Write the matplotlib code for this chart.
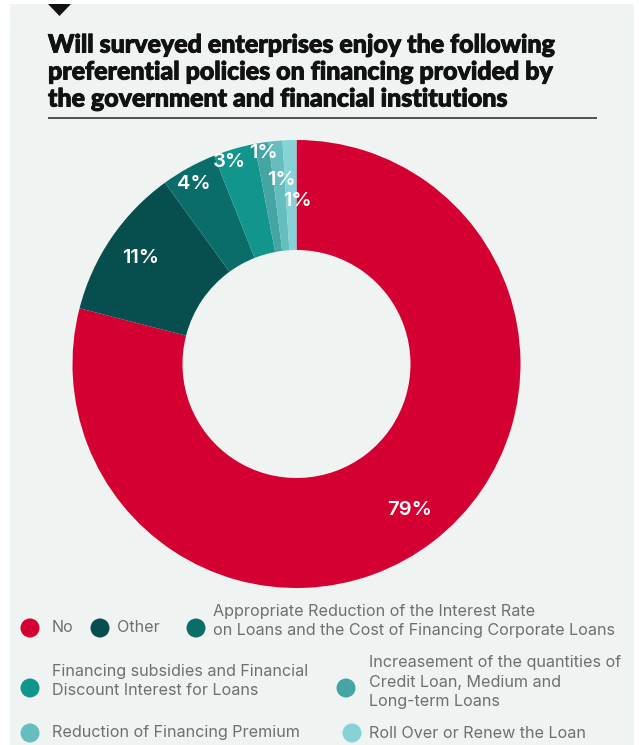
import matplotlib
matplotlib.use("Agg")
import matplotlib.pyplot as plt
from matplotlib.patches import Circle, Polygon, Rectangle
import matplotlib.patheffects as pe
import numpy as np

categories = [
    "No",
    "Other",
    "Appropriate Reduction of the Interest Rate\non Loans and the Cost of Financing Corporate Loans",
    "Financing subsidies and Financial\nDiscount Interest for Loans",
    "Increasement of the quantities of\nCredit Loan, Medium and\nLong-term Loans",
    "Reduction of Financing Premium",
    "Roll Over or Renew the Loan",
]
shares = [79, 11, 4, 3, 1, 1, 1]
value_labels = ["79%", "11%", "4%", "3%", "1%", "1%", "1%"]
colors = ["#d40032", "#064f4e", "#0b6d6a", "#12958c", "#45a5a5", "#66bdbd", "#87d2d7"]

title_lines = [
    "Will surveyed enterprises enjoy the following",
    "preferential policies on financing provided by",
    "the government and financial institutions",
]

W, H = 639, 745
DPI = 100
fig = plt.figure(figsize=(W / DPI, H / DPI), dpi=DPI)
fig.patch.set_facecolor("white")

# full-figure canvas in pixel units (y grows downward)
canvas = fig.add_axes([0, 0, 1, 1])
canvas.set_xlim(0, W)
canvas.set_ylim(H, 0)
canvas.axis("off")

BG = "#eff3f2"
canvas.add_patch(Rectangle((10, 4), 624, H, facecolor=BG, edgecolor="none", zorder=0))
canvas.add_patch(Polygon([(48, 4), (71, 4), (59.5, 16)], closed=True,
                         facecolor="#111111", edgecolor="none", zorder=2))

title_font = ["Lato", "DejaVu Sans"]
for k, line in enumerate(title_lines):
    canvas.text(48, 52.5 + 27 * k, line, ha="left", va="baseline", fontsize=18.0,
                fontweight="black", family=title_font, color="#111111", zorder=3,
                path_effects=[pe.withStroke(linewidth=0.7, foreground="#111111")])
canvas.plot([48, 597], [118, 118], color="#333333", lw=1.2, solid_capstyle="butt", zorder=3)

# donut
cx, cy, R, r_in = 296.5, 364, 224, 114
pie_ax = fig.add_axes([(cx - R) / W, (H - cy - R) / H, 2 * R / W, 2 * R / H])
pie_ax.pie(shares, colors=colors, startangle=90, counterclock=False, radius=1,
           wedgeprops=dict(width=1 - r_in / R, edgecolor="none", linewidth=0))
pie_ax.set_xlim(-1, 1)
pie_ax.set_ylim(-1, 1)
pie_ax.set_aspect("equal")
pie_ax.axis("off")

# value labels at wedge mid-angles
label_radius = [0.826, 0.84, 0.924, 0.95, 0.955, 0.826, 0.728]
label_shift = [0, 0, 0.8, 2.3, 0, -0.6, -2.0]
cum = np.cumsum([0] + shares[:-1])
total = sum(shares)
for i, s in enumerate(shares):
    mid = 90 - 360 * (cum[i] + s / 2) / total + label_shift[i]
    t = np.deg2rad(mid)
    pie_ax.text(label_radius[i] * np.cos(t), label_radius[i] * np.sin(t), value_labels[i],
                ha="center", va="center", color="white", fontsize=14.5,
                fontweight="semibold", family=["Inter", "DejaVu Sans"])

# legend
leg_font = ["Inter", "DejaVu Sans"]
leg_color = "#6f6f6f"
leg_size = 11.6
marker_r = 9.5
legend_items = [
    (30, 628, 52, 628),
    (100, 628, 117, 628),
    (196, 628, 213, 621),
    (30, 688, 52, 681),
    (346, 688, 369, 682),
    (30, 733, 52, 733),
    (352, 733, 369, 733),
]
for (mx, my, tx, ty), name, col in zip(legend_items, categories, colors):
    canvas.add_patch(Circle((mx, my), marker_r, facecolor=col, edgecolor="none", zorder=3))
    canvas.text(tx, ty, name, ha="left", va="center", fontsize=leg_size, family=leg_font,
                color=leg_color, linespacing=1.35, zorder=3)

fig.savefig("out.png", dpi=DPI, facecolor=fig.get_facecolor())
